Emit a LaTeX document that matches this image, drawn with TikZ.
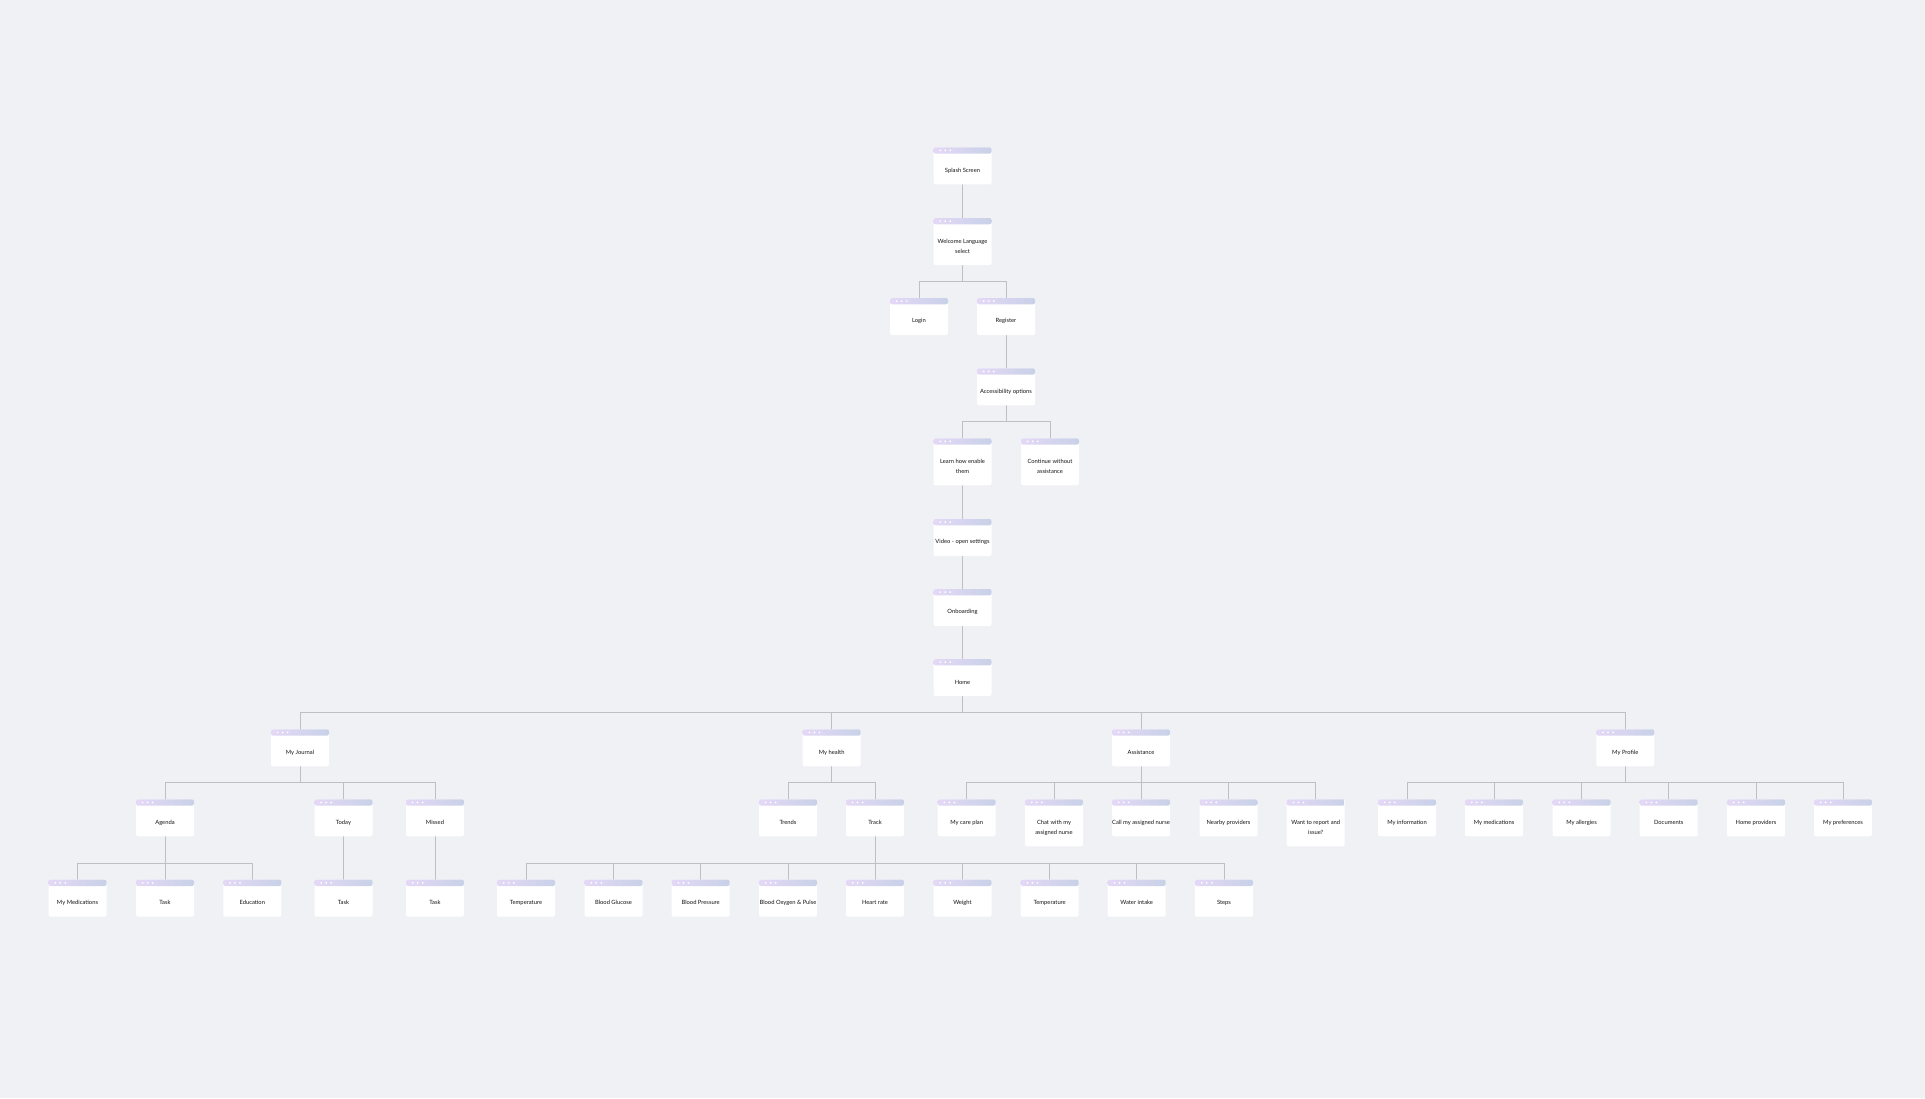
\documentclass[tikz,border=0pt]{standalone}
\usepackage{fontspec}
\setmainfont{Lato}
\usetikzlibrary{calc}
\definecolor{bgc}{HTML}{F0F1F5}
\definecolor{linec}{HTML}{BDBFC4}
\definecolor{hdrL}{HTML}{E4D8F6}
\definecolor{hdrR}{HTML}{C8D1E7}
\definecolor{txtc}{HTML}{151515}
\pgfdeclarelayer{bgl}
\pgfdeclarelayer{lnl}
\pgfsetlayers{bgl,lnl,main}
\tikzset{
  scr/.style={rectangle, rounded corners=2pt, fill=white, inner sep=0pt,
    minimum width=58pt, minimum height=37pt,
    path picture={
      \shade[left color=hdrL, right color=hdrR]
        (path picture bounding box.north west) rectangle
        ([yshift=-6.3pt]path picture bounding box.north east);
      \foreach \dx in {6.7,11.7,16.7}
        \fill[white] ([xshift=\dx pt, yshift=-3.15pt]path picture bounding box.north west) circle (1pt);
    }},
  lbl/.style={font=\fontsize{5.8}{10}\selectfont, text=txtc, align=center, inner sep=0pt},
  conn/.style={draw=linec, line width=1pt, line cap=rect},
}
\newcommand\scrn[5]{%
  \node[scr, minimum height=#4pt] (#1) at (#2, #3+#4/2) {};
  \node[lbl] (#1-t) at ([yshift=-4.6pt]#1.center) {#5};
}
\begin{document}
\begin{tikzpicture}[x=1pt, y=-1pt]
\begin{pgfonlayer}{bgl}
  \fill[bgc] (0,0) rectangle (1925,1098);
\end{pgfonlayer}
\useasboundingbox (0,0) rectangle (1925,1098);

% upper chain
\scrn{splash}{962.5}{147.3}{37}{Splash Screen}
\scrn{welcome}{962.5}{218}{47}{Welcome Language\\select}
\scrn{login}{919}{298}{37}{Login}
\scrn{register}{1006}{298}{37}{Register}
\scrn{access}{1006}{368.3}{37}{Accessibility options}
\scrn{learn}{962.5}{438.3}{47}{Learn how enable\\them}
\scrn{contin}{1050}{438.3}{47}{Continue without\\assistance}
\scrn{video}{962.5}{519}{37}{Video - open settings}
\scrn{onboard}{962.5}{589}{37}{Onboarding}
\scrn{home}{962.5}{659}{37}{Home}

% row 2
\scrn{journal}{300}{729.3}{37}{My Journal}
\scrn{health}{831.7}{729.3}{37}{My health}
\scrn{assist}{1141}{729.3}{37}{Assistance}
\scrn{profile}{1625.3}{729.3}{37}{My Profile}

% row 3
\scrn{agenda}{165}{799.3}{37}{Agenda}
\scrn{today}{343.5}{799.3}{37}{Today}
\scrn{missed}{435}{799.3}{37}{Missed}
\scrn{trends}{788}{799.3}{37}{Trends}
\scrn{track}{875}{799.3}{37}{Track}
\scrn{careplan}{966.7}{799.3}{37}{My care plan}
\scrn{chat}{1054}{799.3}{47}{Chat with my\\assigned nurse}
\scrn{call}{1141}{799.3}{37}{Call my assigned nurse}
\scrn{nearby}{1228.5}{799.3}{37}{Nearby providers}
\scrn{want}{1315.7}{799.3}{47}{Want to report and\\issue?}
\scrn{myinfo}{1407}{799.3}{37}{My information}
\scrn{mymeds}{1494}{799.3}{37}{My medications}
\scrn{allerg}{1581.5}{799.3}{37}{My allergies}
\scrn{docs}{1668.7}{799.3}{37}{Documents}
\scrn{homeprov}{1756}{799.3}{37}{Home providers}
\scrn{prefs}{1843}{799.3}{37}{My preferences}

% row 4
\scrn{jmeds}{77.5}{879.7}{37}{My Medications}
\scrn{taska}{165}{879.7}{37}{Task}
\scrn{educ}{252.3}{879.7}{37}{Education}
\scrn{taskb}{343.5}{879.7}{37}{Task}
\scrn{taskc}{435}{879.7}{37}{Task}
\scrn{tempa}{526}{879.7}{37}{Temperature}
\scrn{gluc}{613.5}{879.7}{37}{Blood Glucose}
\scrn{press}{700.7}{879.7}{37}{Blood Pressure}
\scrn{oxy}{788}{879.7}{37}{Blood Oxygen \& Pulse}
\scrn{heart}{875}{879.7}{37}{Heart rate}
\scrn{weight}{962.5}{879.7}{37}{Weight}
\scrn{tempb}{1049.7}{879.7}{37}{Temperature}
\scrn{water}{1136.7}{879.7}{37}{Water intake}
\scrn{steps}{1224}{879.7}{37}{Steps}

% junctions
\coordinate (jw) at (962.5,281.3);
\coordinate (ja) at (1006,421.7);
\coordinate (jh) at (962.5,712.5);
\coordinate (jj) at (300,782.7);
\coordinate (jhe) at (831.7,782.7);
\coordinate (jas) at (1141,782.7);
\coordinate (jp) at (1625.3,782.7);
\coordinate (jag) at (165,863);
\coordinate (jt) at (875,863);

\begin{pgfonlayer}{lnl}
  \draw[conn] (splash.south) -- (welcome.north);
  \draw[conn] (welcome.south) -- (jw);
  \foreach \c in {login,register} \draw[conn] (jw) -| (\c.north);
  \draw[conn] (register.south) -- (access.north);
  \draw[conn] (access.south) -- (ja);
  \foreach \c in {learn,contin} \draw[conn] (ja) -| (\c.north);
  \draw[conn] (learn.south) -- (video.north);
  \draw[conn] (video.south) -- (onboard.north);
  \draw[conn] (onboard.south) -- (home.north);
  \draw[conn] (home.south) -- (jh);
  \foreach \c in {journal,health,assist,profile} \draw[conn] (jh) -| (\c.north);
  \draw[conn] (journal.south) -- (jj);
  \foreach \c in {agenda,today,missed} \draw[conn] (jj) -| (\c.north);
  \draw[conn] (health.south) -- (jhe);
  \foreach \c in {trends,track} \draw[conn] (jhe) -| (\c.north);
  \draw[conn] (assist.south) -- (jas);
  \foreach \c in {careplan,chat,call,nearby,want} \draw[conn] (jas) -| (\c.north);
  \draw[conn] (profile.south) -- (jp);
  \foreach \c in {myinfo,mymeds,allerg,docs,homeprov,prefs} \draw[conn] (jp) -| (\c.north);
  \draw[conn] (agenda.south) -- (jag);
  \foreach \c in {jmeds,taska,educ} \draw[conn] (jag) -| (\c.north);
  \draw[conn] (track.south) -- (jt);
  \foreach \c in {tempa,gluc,press,oxy,heart,weight,tempb,water,steps} \draw[conn] (jt) -| (\c.north);
  \draw[conn] (today.south) -- (taskb.north);
  \draw[conn] (missed.south) -- (taskc.north);
\end{pgfonlayer}
\end{tikzpicture}
\end{document}
